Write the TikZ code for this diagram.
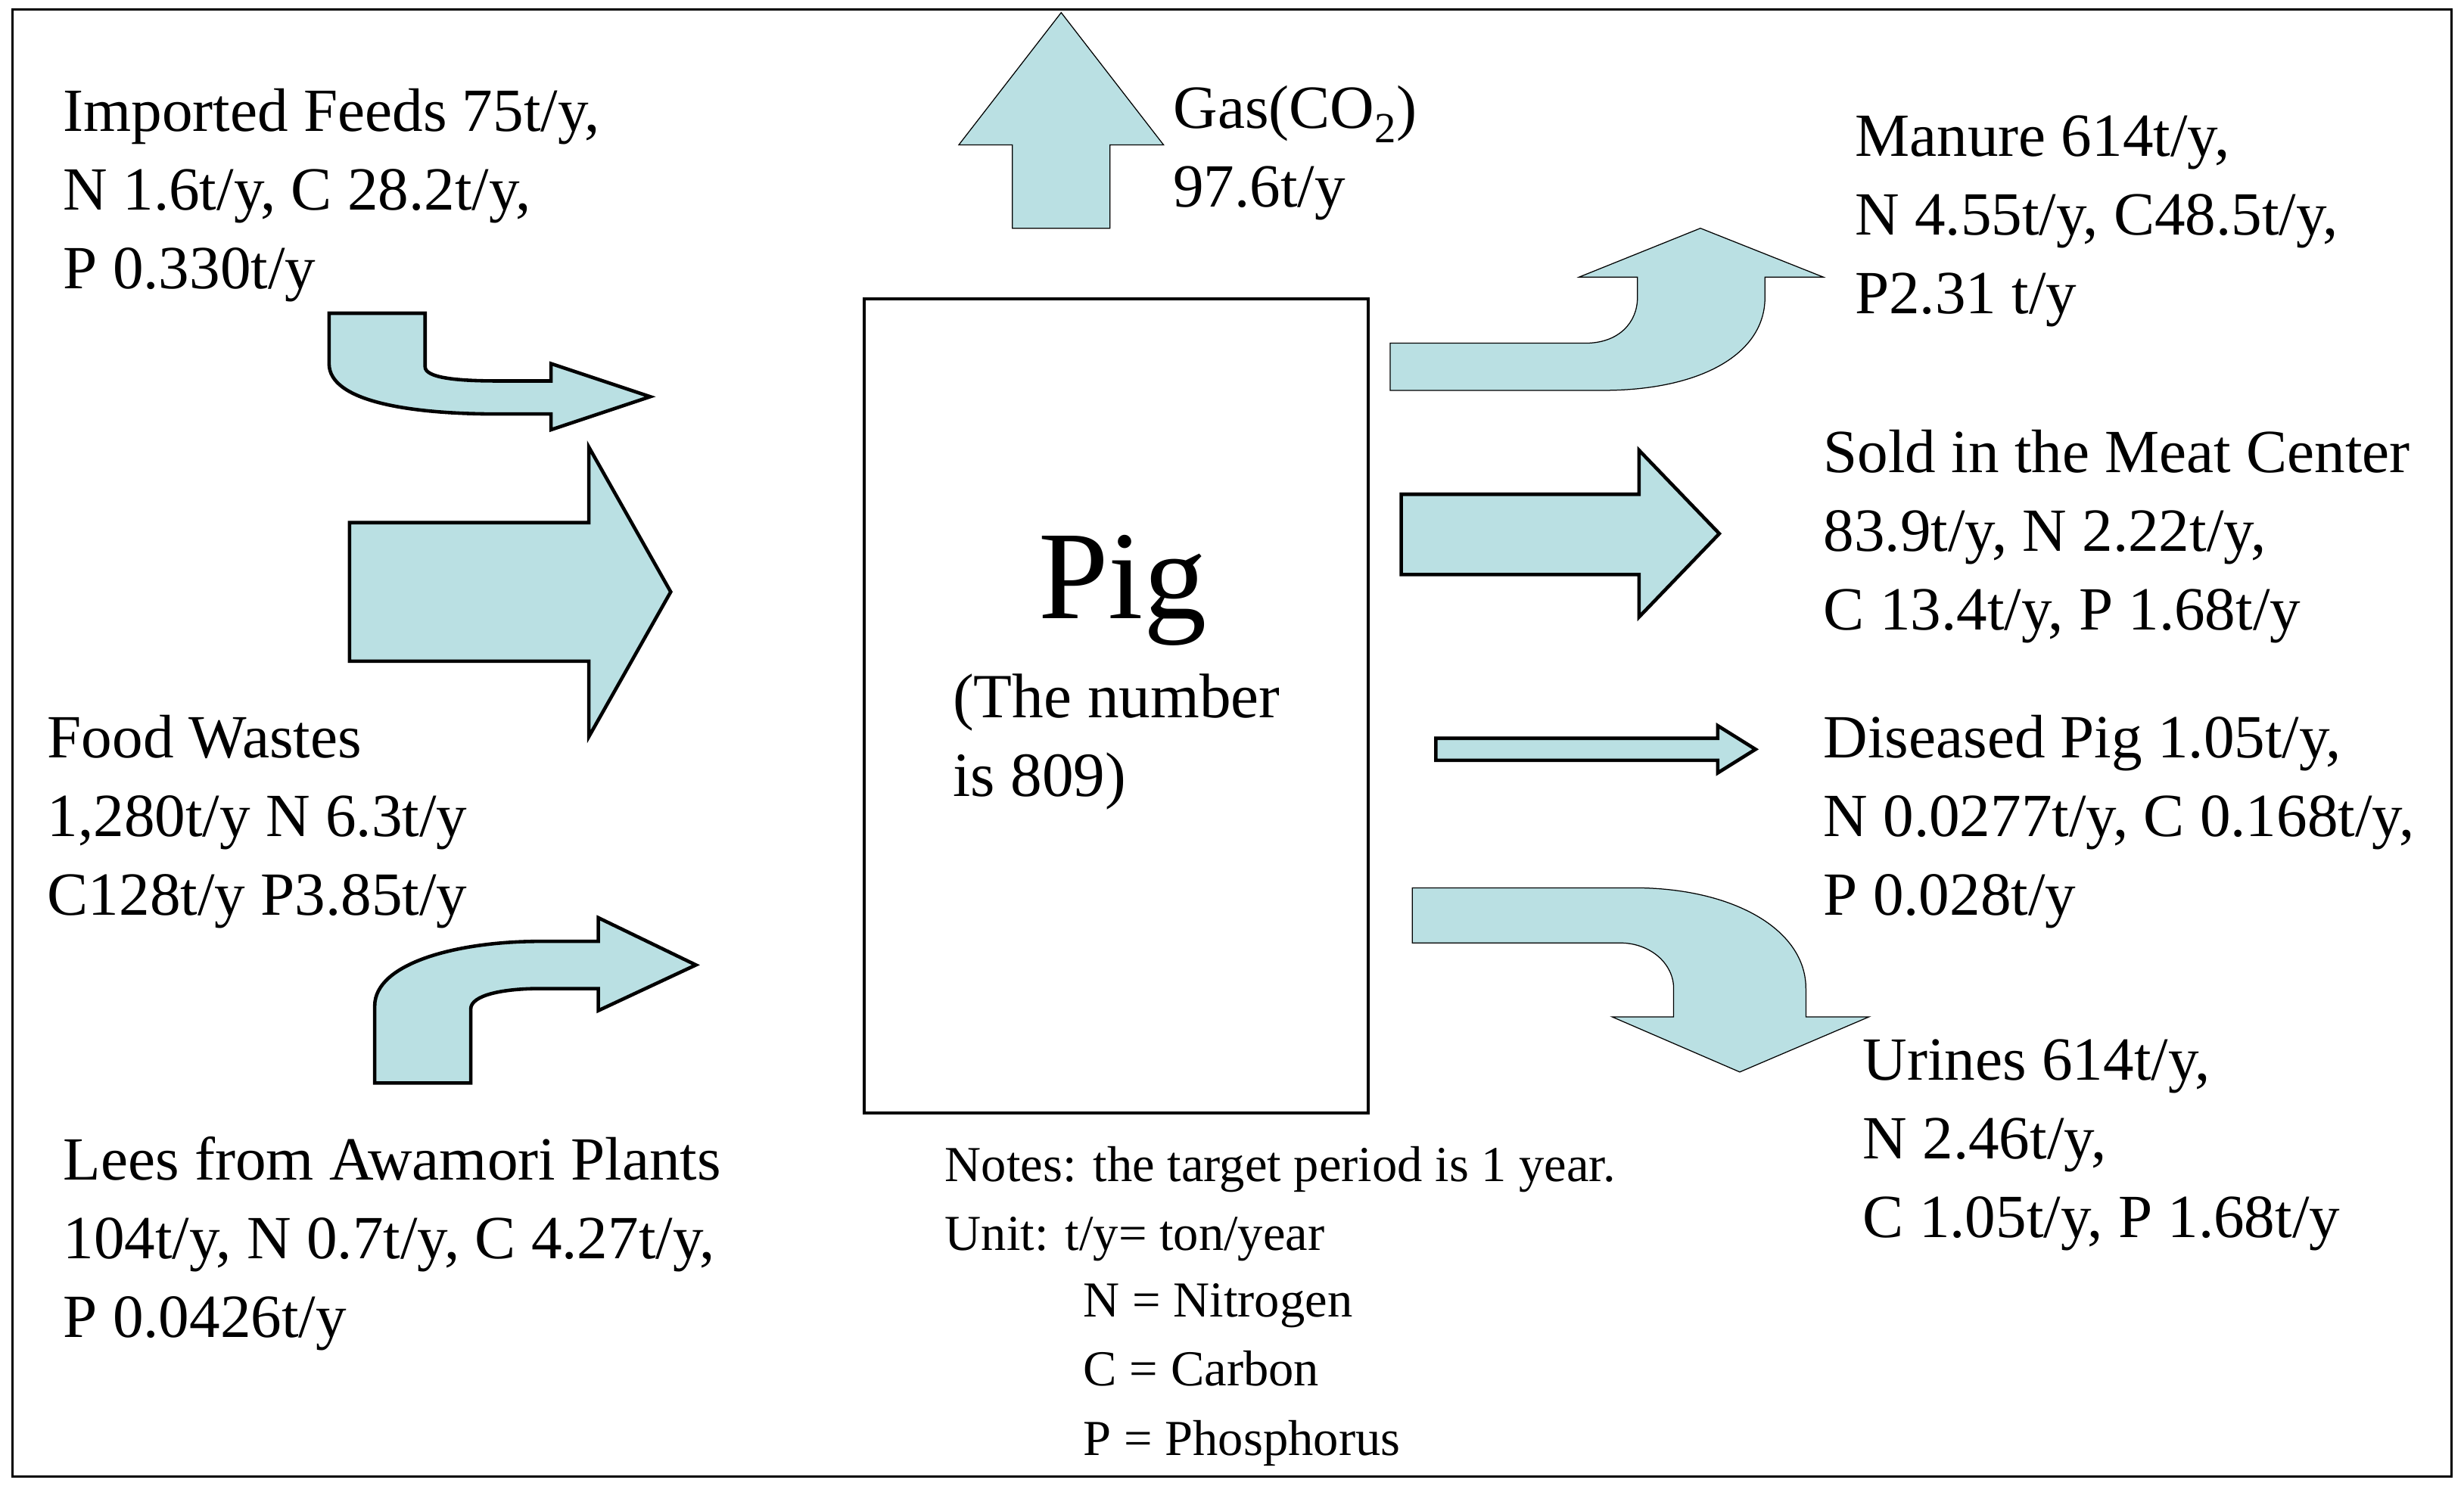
\documentclass[tikz,border=0pt]{standalone}
\usepackage{fontspec}
\setmainfont{Liberation Serif}
\begin{document}
\begin{tikzpicture}[x=1pt,y=-1pt,
  flow/.style={fill=arrowfill,draw=black,line width=2.2pt,line join=miter},
  flowthin/.style={fill=arrowfill,draw=black,line width=0.6pt},
  lbl/.style={anchor=north west,inner sep=0pt,align=left,font=\fontsize{39}{50}\selectfont},
  note/.style={anchor=north west,inner sep=0pt,align=left,font=\fontsize{32}{44}\selectfont}]
\definecolor{arrowfill}{RGB}{186,224,227}
\useasboundingbox (0,0) rectangle (1565,944);
\draw[line width=1.5pt] (8,6) rectangle (1557,938);
% Pig box
\node[draw,line width=2pt,minimum width=320pt,minimum height=517pt,inner sep=0pt] (pig) at (709,448.5) {};
\node[inner sep=0pt,anchor=base,font=\fontsize{80}{90}\selectfont] (pigt) at (713,393) {Pig};
\node[lbl,font=\fontsize{40}{50}\selectfont] (pign) at (605,428) {(The number\\is 809)};
% gas arrow
\path[flowthin] (643,145) -- (643,92) -- (609,92) -- (674,8) -- (739,92) -- (705,92) -- (705,145) -- cycle;
\node[lbl] (gas) at (745,54) {Gas(CO\textsubscript{2})\\97.6t/y};
% imported feeds arrow
\path[flow] (209,199) -- (270,199) -- (270,233) .. controls (270,240) and (290,242) .. (316,242) -- (350,242) -- (350,231) -- (413,252) -- (350,273) -- (350,263) -- (316,263) .. controls (260,263) and (209,255) .. (209,231) -- cycle;
\node[lbl] (imp) at (40,56) {Imported Feeds 75t/y,\\N 1.6t/y, C 28.2t/y,\\P 0.330t/y};
% food wastes big arrow
\path[flow] (222,332) -- (374,332) -- (374,284) -- (426,376) -- (374,468) -- (374,420) -- (222,420) -- cycle;
\node[lbl] (food) at (30,454) {Food Wastes\\1,280t/y N 6.3t/y\\C128t/y P3.85t/y};
% lees arrow
\path[flow] (238,688) -- (238,639) .. controls (238,612) and (290,598) .. (343,598) -- (380,598) -- (380,583) -- (442,613) -- (380,642) -- (380,628) -- (343,628) .. controls (320,628) and (299,632) .. (299,641) -- (299,688) -- cycle;
\node[lbl] (lees) at (40,722) {Lees from Awamori Plants\\104t/y, N 0.7t/y, C 4.27t/y,\\P 0.0426t/y};
% manure arrow
\path[flowthin] (883,218) -- (1007,218) .. controls (1028,218) and (1040,205) .. (1040,189) -- (1040,176) -- (1003,176) -- (1080,145) -- (1158,176) -- (1121,176) -- (1121,189) .. controls (1121,225) and (1080,248) .. (1018,248) -- (883,248) -- cycle;
\node[lbl] (man) at (1178,73) {Manure 614t/y,\\N 4.55t/y, C48.5t/y,\\P2.31 t/y};
% sold arrow
\path[flow] (890,314) -- (1041,314) -- (1041,286) -- (1092,339) -- (1041,392) -- (1041,365) -- (890,365) -- cycle;
\node[lbl] (sold) at (1158,273) {Sold in the Meat Center\\83.9t/y, N 2.22t/y,\\C 13.4t/y, P 1.68t/y};
% diseased arrow
\path[flow] (912,469) -- (1091,469) -- (1091,461) -- (1115,476) -- (1091,491) -- (1091,483) -- (912,483) -- cycle;
\node[lbl] (dis) at (1158,454) {Diseased Pig 1.05t/y,\\N 0.0277t/y, C 0.168t/y,\\P 0.028t/y};
% urine arrow
\path[flowthin] (897,564) -- (1038,564) .. controls (1100,564) and (1147,590) .. (1147,628) -- (1147,646) -- (1187,646) -- (1105,681) -- (1024,646) -- (1063,646) -- (1063,628) .. controls (1063,612) and (1048,599) .. (1029,599) -- (897,599) -- cycle;
\node[lbl] (uri) at (1183,660) {Urines 614t/y,\\N 2.46t/y,\\C 1.05t/y, P 1.68t/y};
% notes
\node[note] (notes) at (600,728) {Notes: the target period is 1 year.\\Unit: t/y= ton/year};
\node[note] (notes2) at (688,815) {N = Nitrogen\\C = Carbon\\P = Phosphorus};
\end{tikzpicture}
\end{document}
